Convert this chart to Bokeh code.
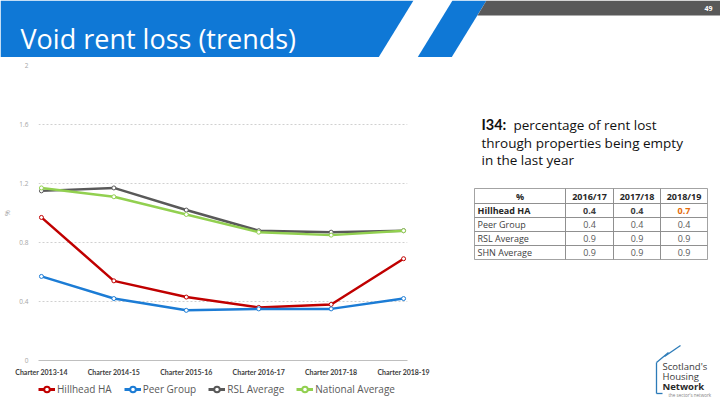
from bokeh.plotting import figure
from bokeh.layouts import column, row
from bokeh.models import (Range1d, FixedTicker, NumeralTickFormatter, ColumnDataSource,
                          Legend, LegendItem)
from bokeh.core.properties import value
from bokeh.embed import file_html
from bokeh.resources import INLINE

# ---- chart data -------------------------------------------------------------
categories = ["Charter 2013-14", "Charter 2014-15", "Charter 2015-16",
              "Charter 2016-17", "Charter 2017-18", "Charter 2018-19"]
hillhead = [0.97, 0.54, 0.43, 0.36, 0.38, 0.69]
peer_group = [0.57, 0.42, 0.34, 0.35, 0.35, 0.42]
rsl_average = [1.15, 1.17, 1.02, 0.88, 0.87, 0.88]
national_average = [1.17, 1.11, 0.99, 0.87, 0.85, 0.88]
series_names = ["Hillhead HA", "Peer Group", "RSL Average", "National Average"]
y_ticks = [0, 0.4, 0.8, 1.2, 1.6, 2]

# ---- summary table data -----------------------------------------------------
table_header = ["%", "2016/17", "2017/18", "2018/19"]
table_rows = ["Hillhead HA", "Peer Group", "RSL Average", "SHN Average"]
table_hillhead = ["0.4", "0.4", "0.7"]
table_peer = ["0.4", "0.4", "0.4"]
table_rsl = ["0.9", "0.9", "0.9"]
table_shn = ["0.9", "0.9", "0.9"]

BLUE = "#0F78D6"
DARK = "#595959"
colors = ["#C00000", "#1C7CD5", "#595959", "#92D050"]
FONT = "Open Sans"
series = [hillhead, peer_group, rsl_average, national_average]


def canvas(w, h, x0, x1, y0, y1):
    """Blank figure whose frame fills it; y runs downwards like page pixels."""
    f = figure(width=w, height=h, output_backend="svg", toolbar_location=None,
               x_range=Range1d(x0, x1), y_range=Range1d(y1, y0),
               x_axis_location=None, y_axis_location=None, min_border=0,
               outline_line_color=None, background_fill_color="white",
               border_fill_color="white")
    f.grid.visible = False
    return f


# ---- header band --------------------------------------------------------------
head = canvas(720, 57, 0, 720, 0, 57)
head.patches(xs=[[0, 413, 378, 0], [452, 486, 451, 417], [486, 720, 720, 477]],
             ys=[[0, 0, 57, 57], [0, 0, 57, 57], [0, 0, 15, 15]],
             fill_color=[BLUE, BLUE, DARK], line_color=None)
head.text(x=[20], y=[38], text=["Void rent loss (trends)"], text_color="white",
          text_font=value(FONT), text_font_size="27px", text_baseline="middle")
head.text(x=[708], y=[8], text=["49"], text_color="white", text_font=value(FONT),
          text_font_style="bold", text_font_size="7px", text_align="center",
          text_baseline="middle")

# ---- line chart ---------------------------------------------------------------
STEP = 74  # px between categories
chart = figure(width=430, height=321, output_backend="svg", toolbar_location=None,
               x_range=Range1d(-3 / STEP, 5 + 4 / STEP), y_range=Range1d(0, 2),
               min_border_left=30, min_border_right=23, min_border_top=8,
               min_border_bottom=18, outline_line_color=None,
               background_fill_color="white", border_fill_color="white")

xs = list(range(len(categories)))
chart.xaxis.ticker = FixedTicker(ticks=xs)
chart.xaxis.major_label_overrides = {i: c for i, c in enumerate(categories)}
chart.xaxis.axis_line_color = "#bfbfbf"
chart.xaxis.major_tick_line_color = None
chart.xaxis.minor_tick_line_color = None
chart.xaxis.major_label_text_font = "Lato"
chart.xaxis.major_label_text_font_style = "bold"
chart.xaxis.major_label_text_font_size = "7px"
chart.xaxis.major_label_text_color = "#404040"
chart.xaxis.major_label_standoff = 1

chart.yaxis.ticker = FixedTicker(ticks=y_ticks)
chart.yaxis.formatter = NumeralTickFormatter(format="0.[0]")
chart.yaxis.axis_line_color = None
chart.yaxis.major_tick_line_color = None
chart.yaxis.minor_tick_line_color = None
chart.yaxis.major_label_text_font = FONT
chart.yaxis.major_label_text_font_size = "6.5px"
chart.yaxis.major_label_text_color = "#a6a6a6"
chart.yaxis.major_label_standoff = 4
chart.yaxis.axis_label = "%"
chart.yaxis.axis_label_text_font = FONT
chart.yaxis.axis_label_text_font_style = "normal"
chart.yaxis.axis_label_text_font_size = "7px"
chart.yaxis.axis_label_text_color = "#a6a6a6"
chart.yaxis.axis_label_standoff = 4

chart.xgrid.grid_line_color = None
chart.ygrid.grid_line_color = "#d0d0d0"
chart.ygrid.grid_line_dash = "2 2"

for vals, col in zip(series, colors):
    chart.line(xs, vals, line_color=col, line_width=2.5)
    chart.scatter(xs, vals, marker="circle", size=4, fill_color="white",
                  line_color=col, line_width=1)

# ---- legend strip under the chart -------------------------------------------------
# the key panel's own view window lies away from the series, so only the keys show
key = canvas(430, 22, 10, 11, 10, 11)
items = []
for name, vals, col in zip(series_names, series, colors):
    kl = key.line(xs, vals, line_color=col, line_width=3)
    kc = key.scatter(xs, vals, marker="circle", size=7, fill_color="white",
                     line_color=col, line_width=2)
    items.append(LegendItem(label=name, renderers=[kl, kc]))
key.add_layout(Legend(items=items, orientation="horizontal", location=(0, 4),
                      border_line_color=None, background_fill_alpha=0,
                      label_text_font=FONT, label_text_font_size="10px",
                      label_text_color="#595959", glyph_width=17, glyph_height=14,
                      label_standoff=2, spacing=12, padding=0, margin=0))

# ---- description, table and logo --------------------------------------------------
side = canvas(290, 343, 430, 720, 57, 400)
side.text(x=[481], y=[124], text=["I34:"], text_color="#111111", text_font=value("Lato"),
          text_font_style="bold", text_font_size="14.5px", text_baseline="middle")
side.text(x=[513, 481, 481], y=[124, 142, 159],
          text=["percentage of rent lost", "through properties being empty",
                "in the last year"],
          text_color="#111111", text_font=value(FONT), text_font_size="13.5px",
          text_baseline="middle")

col_edges = [474, 565, 613, 660, 707]
row_edges = [188, 203, 217, 231, 245, 259]
ql, qr, qt, qb = [], [], [], []
for r in range(len(row_edges) - 1):
    for c in range(len(col_edges) - 1):
        ql.append(col_edges[c]); qr.append(col_edges[c + 1])
        qt.append(row_edges[r]); qb.append(row_edges[r + 1])
side.quad(left=ql, right=qr, top=qt, bottom=qb, fill_color=None,
          line_color="#8c8c8c", line_width=0.8)

col_centers = [(col_edges[i] + col_edges[i + 1]) / 2 for i in range(4)]
row_centers = [(row_edges[i] + row_edges[i + 1]) / 2 for i in range(5)]
tx, ty, tt, tcol, tsty, talign = [], [], [], [], [], []
for c, h in enumerate(table_header):
    tx.append(col_centers[c]); ty.append(row_centers[0]); tt.append(h)
    tcol.append("#262626"); tsty.append("bold"); talign.append("center")
body = [table_hillhead, table_peer, table_rsl, table_shn]
for r, (label, vals) in enumerate(zip(table_rows, body)):
    bold = r == 0
    tx.append(col_edges[0] + 3); ty.append(row_centers[r + 1]); tt.append(label)
    tcol.append("#262626" if bold else "#404040")
    tsty.append("bold" if bold else "normal"); talign.append("left")
    for c, v in enumerate(vals):
        tx.append(col_centers[c + 1]); ty.append(row_centers[r + 1]); tt.append(v)
        if bold:
            tcol.append("#E46C0A" if c == 2 else "#404040")
        else:
            tcol.append("#595959")
        tsty.append("bold" if bold else "normal"); talign.append("center")
tsrc = ColumnDataSource(dict(x=tx, y=ty, text=tt, color=tcol, style=tsty, align=talign))
side.text(x="x", y="y", text="text", source=tsrc, text_color="color",
          text_font_style="style", text_align="align", text_baseline="middle",
          text_font=value(FONT), text_font_size="9px")

# housing network mark
LOGO = "#2C7BB8"
side.segment(x0=[656, 656, 664, 656], y0=[362, 362, 356, 393],
             x1=[656, 668, 680, 662], y1=[393, 352, 345, 393],
             line_color=LOGO, line_width=1.3)
side.text(x=[662, 662], y=[366, 376], text=["Scotland's", "Housing"],
          text_color="#3a3a3a", text_font=value(FONT), text_font_size="9.5px",
          text_baseline="middle")
side.text(x=[662], y=[386], text=["Network"], text_color="#2a2a2a",
          text_font=value(FONT), text_font_style="bold", text_font_size="9.5px",
          text_baseline="middle")
side.text(x=[668], y=[394], text=["the sector's network"], text_color="#7f7f7f",
          text_font=value(FONT), text_font_size="4.5px", text_baseline="middle")

# ---- footer bar ---------------------------------------------------------------------
foot = canvas(720, 5, 0, 720, 0, 5)
foot.background_fill_color = DARK
foot.border_fill_color = DARK

page = column(head, row(column(chart, key), side), foot)
open("out.html", "w").write(file_html(page, INLINE))
